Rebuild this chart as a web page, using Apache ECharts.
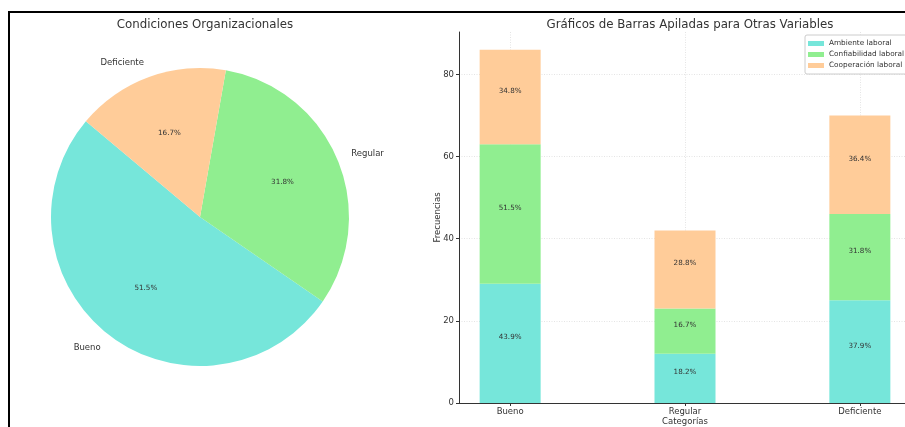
<!DOCTYPE html>
<html>
<head>
<meta charset="utf-8">
<script src="https://cdn.jsdelivr.net/npm/echarts@6/dist/echarts.min.js"></script>
<style>
  html, body { margin: 0; padding: 0; background: #fff; }
  #wrap { position: relative; width: 905px; height: 427px; overflow: hidden; }
  #chart { position: absolute; left: 0; top: 0; width: 905px; height: 427px; }
  #frame { position: absolute; left: 8px; top: 11px; right: -10px; bottom: -10px;
           border-top: 2px solid #000; border-left: 2px solid #000; pointer-events: none; }
</style>
</head>
<body>
<div id="wrap">
  <div id="chart"></div>
  <div id="frame"></div>
</div>
<script>
// ---- data ----
const pieTitle = 'Condiciones Organizacionales';
const barTitle = 'Gráficos de Barras Apiladas para Otras Variables';
const categories = ['Bueno', 'Regular', 'Deficiente'];
const condiciones = [34, 21, 11];
const ambienteLaboral = [29, 12, 25];
const confiabilidadLaboral = [34, 11, 21];
const cooperacionLaboral = [23, 19, 24];
const variableNames = ['Ambiente laboral', 'Confiabilidad laboral', 'Cooperación laboral'];
const yTicks = [0, 20, 40, 60, 80];
const colors = ['#76E6DA', '#90EE90', '#FFCC99'];

const FONT = 'DejaVu Sans';
const chart = echarts.init(document.getElementById('chart'), null, { renderer: 'canvas' });

const pieData = categories.map((c, i) => ({ name: c, value: condiciones[i], itemStyle: { color: colors[i] } }));
const pieTotal = condiciones.reduce((a, b) => a + b, 0);

function pct(v, arr) {
  const t = arr.reduce((a, b) => a + b, 0);
  return (v / t * 100).toFixed(1) + '%';
}

const barSeriesData = [ambienteLaboral, confiabilidadLaboral, cooperacionLaboral];
const barSeries = barSeriesData.map((arr, k) => ({
  type: 'bar',
  name: variableNames[k],
  stack: 'total',
  xAxisIndex: 0,
  yAxisIndex: 0,
  barWidth: 61,
  itemStyle: { color: colors[k] },
  // value first so that the stacked dimension is y; category index second
  data: arr.map((v, i) => [v, i]),
  encode: { x: 1, y: 0 },
  label: {
    show: true,
    position: 'inside',
    offset: [0, -6],
    fontFamily: FONT,
    fontSize: 7.2,
    color: '#333',
    formatter: p => pct(p.value[0], arr)
  },
  emphasis: { disabled: true },
  z: 2
}));

const option = {
  animation: false,
  backgroundColor: '#fff',
  textStyle: { fontFamily: FONT },
  title: [
    { text: pieTitle, left: 200, top: 14, textAlign: 'center',
      textStyle: { fontFamily: FONT, fontSize: 11.8, fontWeight: 'normal', color: '#333' } },
    { text: barTitle, left: 685, top: 14, textAlign: 'center',
      textStyle: { fontFamily: FONT, fontSize: 11.8, fontWeight: 'normal', color: '#333' } }
  ],
  legend: {
    data: variableNames,
    orient: 'vertical',
    left: 805,
    top: 35,
    padding: [4, 12, 4, 3],
    itemWidth: 16,
    itemHeight: 5,
    itemGap: 2,
    icon: 'rect',
    backgroundColor: 'rgba(255,255,255,0.8)',
    borderColor: '#ccc',
    borderWidth: 1,
    borderRadius: 2,
    textStyle: { fontFamily: FONT, fontSize: 7.3, color: '#333', lineHeight: 9 }
  },
  grid: { left: 459, top: 32, width: 452, height: 371, containLabel: false, outerBoundsMode: 'none' },
  xAxis: {
    type: 'value',
    min: -0.2925,
    max: 2.2925,
    name: 'Categorías',
    nameLocation: 'middle',
    nameGap: 14,
    nameMoveOverlap: false,
    nameTextStyle: { fontFamily: FONT, fontSize: 8.5, color: '#333' },
    axisLine: { onZero: false, lineStyle: { color: '#333', width: 1 } },
    axisTick: { show: true, length: 3, customValues: [0, 1, 2], lineStyle: { color: '#333' } },
    axisLabel: { customValues: [0, 1, 2], formatter: v => categories[Math.round(v)] || '',
                 fontFamily: FONT, fontSize: 8.5, color: '#333', margin: 4 },
    splitLine: { show: true, lineStyle: { color: '#ddd', type: [1, 1.5], width: 0.8 } }
  },
  yAxis: {
    type: 'value',
    min: 0,
    max: 90.3,
    name: 'Frecuencias',
    nameLocation: 'middle',
    nameGap: 17,
    nameMoveOverlap: false,
    nameTextStyle: { fontFamily: FONT, fontSize: 8.5, color: '#333' },
    axisLine: { show: true, onZero: false, lineStyle: { color: '#333', width: 1 } },
    axisTick: { show: true, length: 3, customValues: yTicks, lineStyle: { color: '#333' } },
    axisLabel: { customValues: yTicks, fontFamily: FONT, fontSize: 8.5, color: '#333', margin: 5 },
    splitLine: { show: true, lineStyle: { color: '#ddd', type: [1, 1.5], width: 0.8 } }
  },
  series: [
    {
      type: 'pie',
      center: [200, 217],
      radius: 149,
      startAngle: 140,
      clockwise: false,
      data: pieData,
      label: { show: false },
      labelLine: { show: false },
      emphasis: { disabled: true },
      z: 1
    },
    {
      // outside category labels
      type: 'pie',
      center: [200, 217],
      radius: 149,
      startAngle: 140,
      clockwise: false,
      avoidLabelOverlap: false,
      data: pieData.map(d => ({ name: d.name, value: d.value })),
      itemStyle: { color: 'rgba(0,0,0,0)' },
      label: { show: true, position: 'outside', distanceToLabelLine: 0,
               fontFamily: FONT, fontSize: 8.5, color: '#333', formatter: '{b}' },
      labelLine: { show: false, length: 15, length2: 0 },
      emphasis: { disabled: true },
      silent: true,
      z: 3
    },
    {
      // inside percentage labels placed at ~0.6 r
      type: 'pie',
      center: [200, 217],
      radius: 149 * 0.58 * 2,
      startAngle: 140,
      clockwise: false,
      avoidLabelOverlap: false,
      data: pieData.map(d => ({ name: d.name, value: d.value })),
      itemStyle: { color: 'rgba(0,0,0,0)' },
      label: { show: true, position: 'inside',
               fontFamily: FONT, fontSize: 7.2, color: '#333',
               formatter: p => (p.value / pieTotal * 100).toFixed(1) + '%' },
      labelLine: { show: false },
      emphasis: { disabled: true },
      silent: true,
      z: 3
    },
    ...barSeries
  ]
};
chart.setOption(option);
</script>
</body>
</html>
